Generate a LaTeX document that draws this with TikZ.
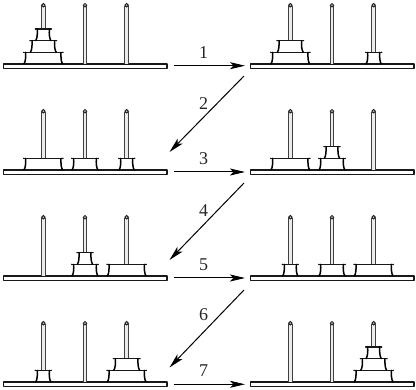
\documentclass[tikz,border=0pt]{standalone}
\usepackage{fontspec}
\setmainfont{Liberation Serif}
\usetikzlibrary{arrows.meta}
\tikzset{
  outline/.style={draw=black!90,line width=1.15pt,line cap=round,line join=round},
  ringside/.style={draw=black,line width=1.5pt,line cap=round},
  rodline/.style={draw=black!75,line width=1pt,fill=black!8},
  moveline/.style={draw=black,line width=1pt,-{Stealth[length=15pt,width=7pt,inset=3.5pt]}},
  stepnum/.style={font=\fontsize{18}{18}\selectfont,inner sep=0pt,text=black!85}
}
% One ring: centre x, bottom y, half width
\newcommand{\ringat}[3]{%
  \pgfmathsetmacro{\rr}{#1+#3}\pgfmathsetmacro{\rl}{#1-#3}%
  \pgfmathsetmacro{\rt}{#2-11.6}%
  \fill[white] (\rl+1.5,\rt) rectangle (\rr-1.5,#2);
  \draw[outline] (\rl,\rt) -- (\rr,\rt);
  \draw[outline] (\rl+0.6,#2) -- (\rr-0.6,#2);
  \draw[ringside] (\rr-1.9,\rt) .. controls (\rr-2.1,\rt+5) and (\rr-1.9,#2-2.5) .. (\rr-0.3,#2);
  \draw[ringside] (\rl+1.9,\rt) .. controls (\rl+2.1,\rt+5) and (\rl+1.9,#2-2.5) .. (\rl+0.3,#2);
  \fill[black!90] (\rr,\rt) circle (0.8);
  \fill[black!90] (\rl,\rt) circle (0.8);
}
% Board with three rods: left edge x, board top y
\newcommand{\boardat}[2]{%
  \draw[outline,fill=white] (#1,#2) rectangle ++(163.5,4.3);
  \foreach \dx in {39.8,81.5,123.2}{
    \draw[rodline] (#1+\dx-1.8,#2) -- (#1+\dx-1.8,#2-57) -- (#1+\dx+1.8,#2-57) -- (#1+\dx+1.8,#2);
    \draw[black!85,line width=1pt,fill=white] (#1+\dx,#2-58.8) circle (1.7);
  }
}
% Stacks of rings: {rod index / level / half width}
\newcommand{\stackon}[3]{%
  \foreach \p/\l/\w in {#3}{
    \pgfmathsetmacro{\cx}{#1+39.8+(\p-1)*41.7}
    \pgfmathsetmacro{\by}{#2-\l*11.7}
    \ringat{\cx}{\by}{\w}
  }
}
\begin{document}
\begin{tikzpicture}[x=1pt,y=-1pt]
\useasboundingbox (0,0) rectangle (416,390);
\def\lx{3.5}\def\rx{250.5}
\def\wa{19.6}\def\wb{13.2}\def\wc{7.9}

\boardat{\lx}{64}\stackon{\lx}{64}{1/0/\wa,1/1/\wb,1/2/\wc}
\boardat{\rx}{64}\stackon{\rx}{64}{1/0/\wa,1/1/\wb,3/0/\wc}
\boardat{\lx}{170}\stackon{\lx}{170}{1/0/\wa,2/0/\wb,3/0/\wc}
\boardat{\rx}{170}\stackon{\rx}{170}{1/0/\wa,2/0/\wb,2/1/\wc}
\boardat{\lx}{276}\stackon{\lx}{276}{2/0/\wb,2/1/\wc,3/0/\wa}
\boardat{\rx}{276}\stackon{\rx}{276}{1/0/\wc,2/0/\wb,3/0/\wa}
\boardat{\lx}{382}\stackon{\lx}{382}{1/0/\wc,3/0/\wa,3/1/\wb}
\boardat{\rx}{382}\stackon{\rx}{382}{3/0/\wa,3/1/\wb,3/2/\wc}

% Move arrows between the rows
\coordinate (a1s) at (173.5,65.7); \coordinate (a1e) at (245,65.7);
\coordinate (a2s) at (244,76);     \coordinate (a2e) at (169.5,152);
\coordinate (a3s) at (173.5,172);  \coordinate (a3e) at (245,172);
\coordinate (a4s) at (244,183);    \coordinate (a4e) at (169.5,260);
\coordinate (a5s) at (173.5,278);  \coordinate (a5e) at (245,278);
\coordinate (a6s) at (244,290);    \coordinate (a6e) at (169.5,367.5);
\coordinate (a7s) at (173.5,384.3);\coordinate (a7e) at (245,384.3);
\foreach \i in {1,...,7}{\draw[moveline] (a\i s) -- (a\i e);}

\node[stepnum] (n1) at (203.5,53) {1};
\node[stepnum] (n2) at (203.5,103.5) {2};
\node[stepnum] (n3) at (203.5,159) {3};
\node[stepnum] (n4) at (203.5,210.5) {4};
\node[stepnum] (n5) at (203.5,264.5) {5};
\node[stepnum] (n6) at (203.5,315) {6};
\node[stepnum] (n7) at (203.5,371) {7};
\end{tikzpicture}
\end{document}
